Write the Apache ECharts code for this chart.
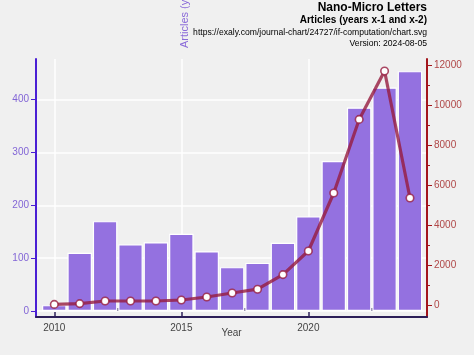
<!DOCTYPE html>
<html>
<head>
<meta charset="utf-8">
<script src="https://cdn.jsdelivr.net/npm/echarts@6/dist/echarts.min.js"></script>
<style>
html,body{margin:0;padding:0;background:#f0f0f0;}
#chart{width:474px;height:355px;}
</style>
</head>
<body>
<div id="chart"></div>
<script>
// ---- data ----
const years = [2010,2011,2012,2013,2014,2015,2016,2017,2018,2019,2020,2021,2022,2023,2024];
const articles = [11,110,170,126,130,146,113,83,91,129,179,284,385,423,454];
const citations = [30,70,200,200,200,250,400,600,790,1520,2700,5600,9280,11700,5350];
const xMajorTicks = [2010,2015,2020];
const xMinorTicks = [2012.5,2017.5,2022.5];
const leftTicks = [0,100,200,300,400];
const rightMajorTicks = [0,2000,4000,6000,8000,10000,12000];
const rightMinorTicks = [1000,3000,5000,7000,9000,11000];
const titleText = 'Nano-Micro Letters';
const subtitleText = 'Articles (years x-1 and x-2)';
const urlText = 'https://exaly.com/journal-chart/24727/if-computation/chart.svg';
const versionText = 'Version: 2024-08-05';
const leftAxisName = 'Articles (years x-1 and x-2)';
const xAxisName = 'Year';

const font = 'Liberation Sans, Arial, sans-serif';
const chart = echarts.init(document.getElementById('chart'), null, {renderer:'canvas'});

const xRange = {min: 2009.28, max: 2024.67};
const leftRange = {min: -11.4, max: 477};
const rightRange = {min: -600, max: 12300};
const lineColor = 'rgba(150,28,62,0.8)';

const option = {
  backgroundColor: '#f0f0f0',
  animation: false,
  grid: {left: 36, right: 47, top: 59, bottom: 38, containLabel: false},
  xAxis: [
    {
      type: 'value', min: xRange.min, max: xRange.max,
      axisLine: {show: true, onZero: false, lineStyle: {color: '#2d1f58', width: 2}},
      axisTick: {show: true, inside: true, length: 5, customValues: xMajorTicks, lineStyle: {color: '#2d1f58', width: 1.5}},
      axisLabel: {customValues: xMajorTicks, color: '#444', fontSize: 10, fontFamily: font, margin: 6,
                  formatter: v => String(v)},
      splitLine: {show: true, lineStyle: {color: '#ffffff', width: 1.5}}
    },
    {
      type: 'value', min: xRange.min, max: xRange.max, position: 'bottom',
      axisLine: {show: false},
      axisTick: {show: true, inside: true, length: 3, customValues: xMinorTicks, lineStyle: {color: '#2d1f58', width: 1.5}},
      axisLabel: {show: false},
      splitLine: {show: false}
    }
  ],
  yAxis: [
    {
      type: 'value', min: leftRange.min, max: leftRange.max, position: 'left',
      axisLine: {show: true, onZero: false, lineStyle: {color: '#4a1fd4', width: 2}},
      axisTick: {show: true, length: 5, customValues: leftTicks, lineStyle: {color: '#4a1fd4', width: 1}},
      axisLabel: {customValues: leftTicks, color: '#8265d6', fontSize: 10, fontFamily: font, margin: 7,
                  formatter: v => String(v)},
      splitLine: {show: true, lineStyle: {color: '#ffffff', width: 1.5}}
    },
    {
      type: 'value', min: rightRange.min, max: rightRange.max, position: 'right',
      axisLine: {show: true, onZero: false, lineStyle: {color: '#a3161c', width: 2}},
      axisTick: {show: true, length: 5, customValues: rightMajorTicks, lineStyle: {color: '#a3161c', width: 1}},
      axisLabel: {customValues: rightMajorTicks, color: '#b04848', fontSize: 10, fontFamily: font, margin: 7,
                  formatter: v => String(v)},
      splitLine: {show: false}
    },
    {
      type: 'value', min: rightRange.min, max: rightRange.max, position: 'right',
      axisLine: {show: false},
      axisTick: {show: true, length: 3, customValues: rightMinorTicks, lineStyle: {color: '#a3161c', width: 1}},
      axisLabel: {show: false},
      splitLine: {show: false}
    }
  ],
  series: [
    {
      type: 'bar', xAxisIndex: 0, yAxisIndex: 0,
      data: years.map((y, i) => [y, articles[i]]),
      barWidth: 24.5,
      itemStyle: {color: '#9471e0', borderColor: '#ffffff', borderWidth: 1.2},
      z: 2
    },
    {
      type: 'line', xAxisIndex: 0, yAxisIndex: 1,
      data: years.map((y, i) => [y, citations[i]]),
      symbol: 'circle', symbolSize: 7.5,
      lineStyle: {color: lineColor, width: 3.2},
      itemStyle: {color: '#ffffff', borderColor: lineColor, borderWidth: 1.6},
      z: 3
    }
  ],
  graphic: [
    {type: 'text', x: 427, y: 8, style: {text: titleText, font: 'bold 12px ' + font, fill: '#000', textAlign: 'right', textVerticalAlign: 'middle'}},
    {type: 'text', x: 427, y: 20, style: {text: subtitleText, font: 'bold 10px ' + font, fill: '#000', textAlign: 'right', textVerticalAlign: 'middle'}},
    {type: 'text', x: 427, y: 33, style: {text: urlText, font: '8.6px ' + font, fill: '#000', textAlign: 'right', textVerticalAlign: 'middle'}},
    {type: 'text', x: 427, y: 44, style: {text: versionText, font: '8.6px ' + font, fill: '#000', textAlign: 'right', textVerticalAlign: 'middle'}},
    {type: 'text', x: 185, y: 48, rotation: Math.PI / 2, style: {text: leftAxisName, font: '11px ' + font, fill: '#8a6ad8', textAlign: 'left', textVerticalAlign: 'middle'}},
    {type: 'text', x: 231.5, y: 333, style: {text: xAxisName, font: '10px ' + font, fill: '#444', textAlign: 'center', textVerticalAlign: 'middle'}}
  ]
};
chart.setOption(option);
</script>
</body>
</html>
